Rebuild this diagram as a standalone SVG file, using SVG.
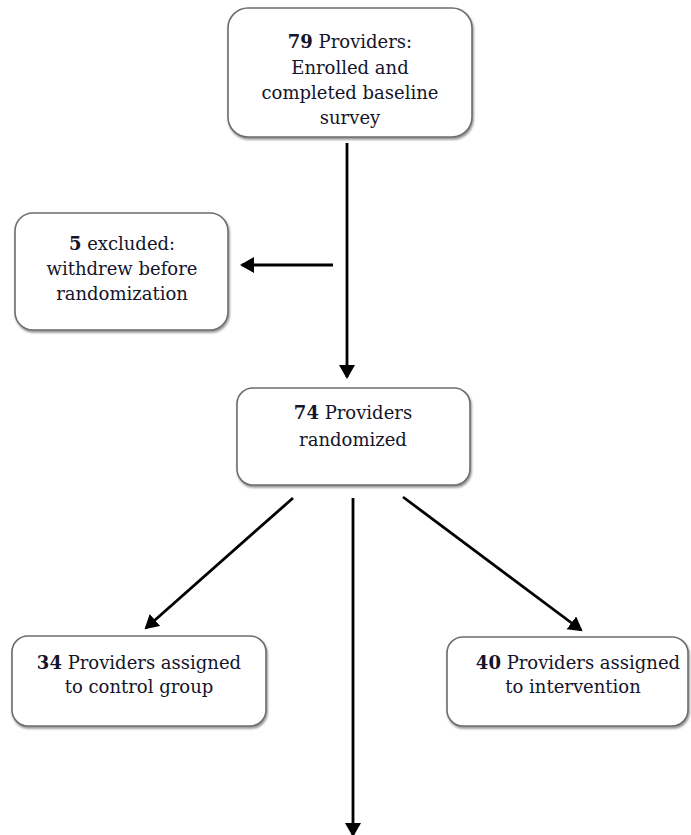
<svg xmlns="http://www.w3.org/2000/svg" width="691" height="835" viewBox="0 0 691 835">
  <defs>
    <filter id="shadow" x="-10%" y="-10%" width="120%" height="130%">
      <feDropShadow dx="1" dy="2" stdDeviation="1.2" flood-color="#666" flood-opacity="0.7"/>
    </filter>
    <marker id="arrow" markerUnits="userSpaceOnUse" markerWidth="15" markerHeight="17" refX="12" refY="8" orient="auto">
      <path d="M0,0 L14,8 L0,16 z" fill="#000"/>
    </marker>
    <style>
      .box { fill: #fff; stroke: #6e6e6e; stroke-width: 1.6; filter: url(#shadow); }
      .txt { font-family: "DejaVu Serif", "Liberation Serif", serif; font-size: 18px; fill: #14142a; text-anchor: middle; }
      .b { font-weight: bold; }
      .conn { stroke: #000; stroke-width: 2.8; fill: none; marker-end: url(#arrow); }
    </style>
  </defs>
  <rect width="691" height="835" fill="#fff"/>

  <g id="connectors">
    <line class="conn" x1="347" y1="143" x2="347" y2="377"/>
    <line class="conn" x1="333" y1="265" x2="242" y2="265"/>
    <line class="conn" x1="293" y1="498" x2="146" y2="628"/>
    <line class="conn" x1="353" y1="498" x2="353" y2="835"/>
    <line class="conn" x1="403" y1="497" x2="581" y2="630"/>
  </g>

  <g id="node-enrolled">
    <rect class="box" x="228" y="8" width="244" height="129" rx="20" ry="20"/>
    <text class="txt" x="350" y="48"><tspan class="b">79</tspan> Providers:</text>
    <text class="txt" x="350" y="74">Enrolled and</text>
    <text class="txt" x="350" y="99">completed baseline</text>
    <text class="txt" x="350" y="124">survey</text>
  </g>

  <g id="node-excluded">
    <rect class="box" x="15" y="213" width="213" height="117" rx="18" ry="18"/>
    <text class="txt" x="122" y="250"><tspan class="b">5</tspan> excluded:</text>
    <text class="txt" x="122" y="275">withdrew before</text>
    <text class="txt" x="122" y="300">randomization</text>
  </g>

  <g id="node-randomized">
    <rect class="box" x="237" y="388" width="233" height="97" rx="16" ry="16"/>
    <text class="txt" x="353" y="419"><tspan class="b">74</tspan> Providers</text>
    <text class="txt" x="353" y="446">randomized</text>
  </g>

  <g id="node-control">
    <rect class="box" x="12" y="636" width="254" height="90" rx="16" ry="16"/>
    <text class="txt" x="139" y="669"><tspan class="b">34</tspan> Providers assigned</text>
    <text class="txt" x="139" y="693">to control group</text>
  </g>

  <g id="node-intervention">
    <rect class="box" x="447" y="637" width="241" height="89" rx="16" ry="16"/>
    <text class="txt" x="578" y="669"><tspan class="b">40</tspan> Providers assigned</text>
    <text class="txt" x="573" y="693">to intervention</text>
  </g>
</svg>
